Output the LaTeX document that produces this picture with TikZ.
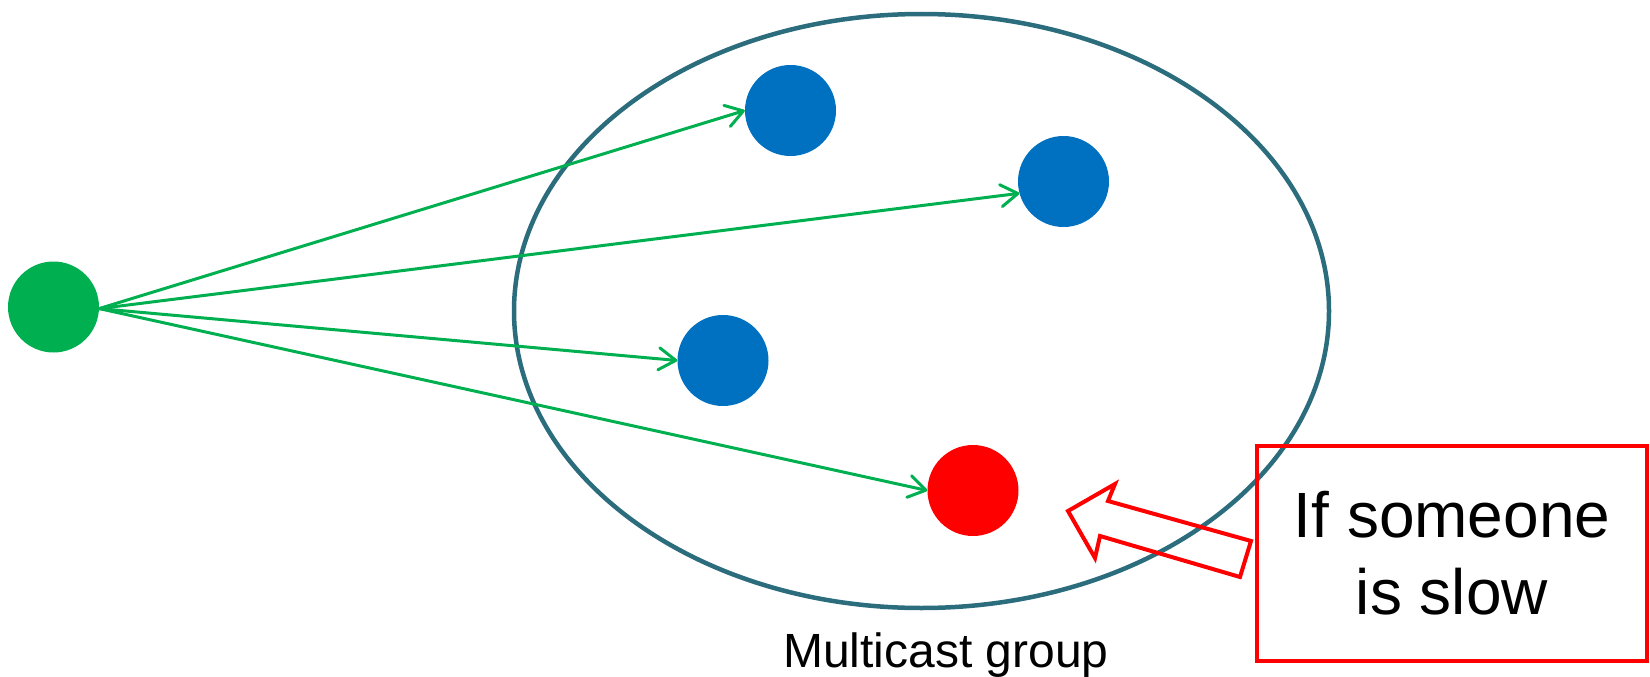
\documentclass[tikz,border=0pt]{standalone}
\usepackage{fontspec}
\setmainfont{Liberation Sans}
\usetikzlibrary{arrows.meta}
\definecolor{pgreen}{RGB}{0,176,80}
\definecolor{pblue}{RGB}{0,112,192}
\definecolor{pred}{RGB}{255,0,0}
\definecolor{pteal}{RGB}{43,108,125}
\tikzset{
  dot/.style={circle, minimum size=91pt, inner sep=0pt, draw=none},
  sendline/.style={pgreen, line width=3pt, -{Straight Barb[length=17pt, width=22pt, round]}},
  groupring/.style={pteal, line width=4.5pt},
  notebox/.style={draw=pred, line width=4pt, minimum width=390pt, minimum height=215pt, inner sep=0pt, align=center, font=\fontsize{64}{77}\selectfont},
  blockarrow/.style={draw=pred, line width=4pt, line join=miter},
  grouplabel/.style={font=\fontsize{48}{56}\selectfont, anchor=base, inner sep=0pt}
}
\begin{document}
\begin{tikzpicture}[x=1pt, y=-1pt]
\useasboundingbox (0,0) rectangle (1650,677);
% multicast group ring
\draw[groupring] (921.5,311) ellipse [x radius=407.5, y radius=297];
\node[grouplabel] (lbl) at (946,667) {Multicast group};
% nodes
\node[dot, fill=pgreen] (src) at (53.5,307) {};
\node[dot, fill=pblue] (b1) at (790.5,110.5) {};
\node[dot, fill=pblue] (b2) at (1063.5,181.5) {};
\node[dot, fill=pblue] (b3) at (723,360.5) {};
\node[dot, fill=pred] (slow) at (973,490.5) {};
% connectors
\draw[sendline] (src.-2) -- (b1.west);
\draw[sendline] (src.-2) -- (b2.195);
\draw[sendline] (src.-2) -- (b3.west);
\draw[sendline] (src.-2) -- (slow.west);
% note box
\node[notebox] (note) at (1452,553.5) {If someone\\is slow};
% block arrow
\draw[blockarrow] (1068,511) -- (1115,484) -- (1108,501) -- (1251,541) -- (1240,577) -- (1100,536) -- (1095,558) -- cycle;
\end{tikzpicture}
\end{document}
